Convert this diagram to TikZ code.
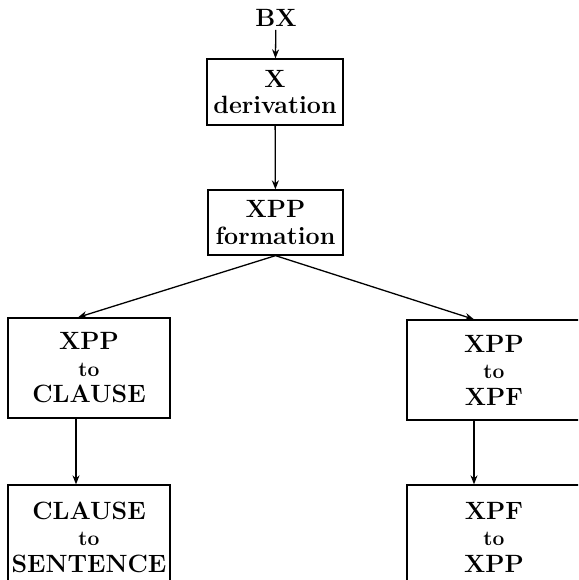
\documentclass[tikz,border=0pt]{standalone}
\usepackage{tikz}
\usetikzlibrary{arrows.meta,positioning}

\begin{document}
\begin{tikzpicture}[x=1pt,y=1pt]
			\tikzset{
				stage/.style={draw, line width=1.3pt, align=center, inner sep=2pt, font={\fontsize{25}{26.5}\selectfont\bfseries}},
				arrow/.style={-{Stealth[length=9pt,width=7pt]}, line width=1.3pt},
			}
			\newcommand{\tosmall}{{\fontsize{21}{26.5}\selectfont to}}

			\clip (0,0) rectangle (578,580);

			\node[font={\fontsize{25}{26}\selectfont\bfseries}, inner sep=3pt] (bx) at (276,562) {BX};

			\node[stage, minimum width=136, minimum height=66] (xder) at (275,488) {X\\derivation};
			\node[stage, minimum width=135, minimum height=65] (xppf) at (275.5,357.5) {XPP\\formation};

			\node[stage, minimum width=162, minimum height=100] (toclause) at (89,212) {XPP\\\tosmall\\CLAUSE};
			\node[stage, minimum width=174, minimum height=100] (toxpf) at (494,210) {XPP\\\tosmall\\XPF};

			\node[stage, minimum width=162, minimum height=104] (tosent) at (89,43) {CLAUSE\\\tosmall\\SENTENCE};
			\node[stage, minimum width=174, minimum height=104] (toxpp) at (494,43) {XPF\\\tosmall\\XPP};

			\draw[arrow] (bx) -- (xder);
			\draw[arrow] (xder) -- (xppf);
			\draw[arrow] (xppf.south) -- ([xshift=-11pt]toclause.north);
			\draw[arrow] (xppf.south) -- ([xshift=-20pt]toxpf.north);
			\draw[arrow] ([xshift=-13pt]toclause.south) -- ([xshift=-13pt]tosent.north);
			\draw[arrow] ([xshift=-20pt]toxpf.south) -- ([xshift=-20pt]toxpp.north);

\end{tikzpicture}
\end{document}
